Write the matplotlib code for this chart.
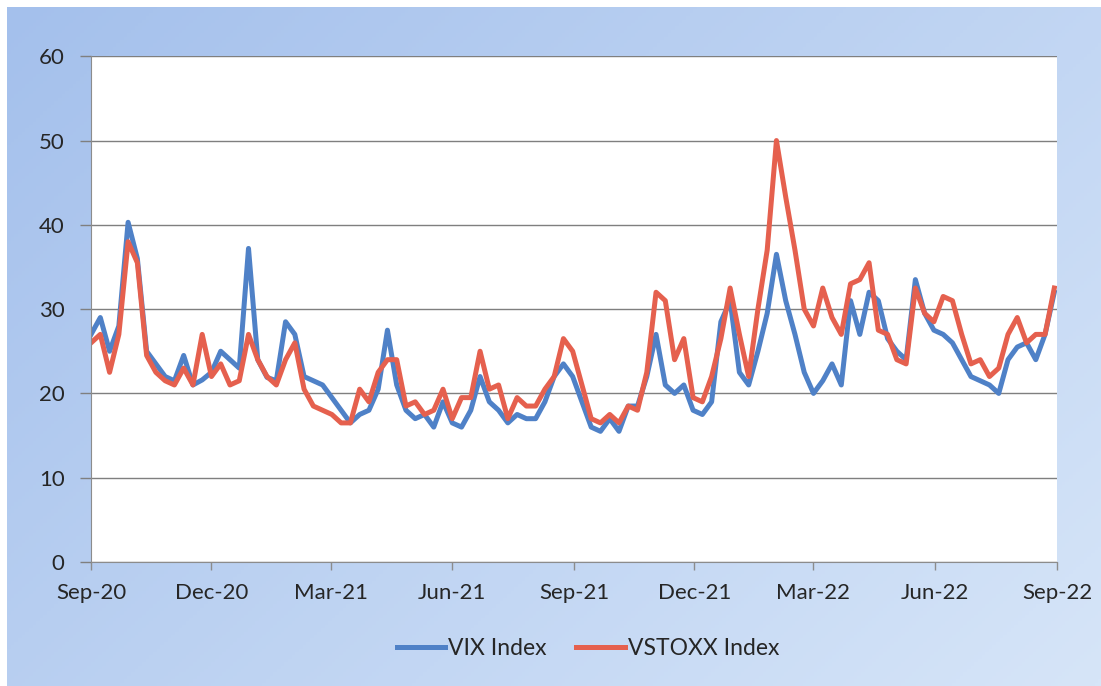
import numpy as np
import pandas as pd
import matplotlib.pyplot as plt
import matplotlib.dates as mdates
from matplotlib.colors import LinearSegmentedColormap

plt.rcParams['font.family'] = ['Lato', 'DejaVu Sans']

# weekly readings, Sep-2020 .. Aug-2022
dates = pd.date_range("2020-09-01", periods=105, freq="7D")

vix = [27, 29, 25, 28, 40.3, 36, 25, 23.5, 22, 21.5,
       24.5, 21, 21.6, 22.5, 25, 24, 23, 37.2, 24, 21.9,
       21.5, 28.5, 27, 22, 21.5, 21, 19.5, 18, 16.5, 17.5,
       18, 20.5, 27.5, 21, 18, 17, 17.5, 16, 19, 16.5,
       16, 18, 22, 19, 18, 16.5, 17.5, 17, 17, 19,
       22, 23.5, 22, 19, 16, 15.5, 17, 15.5, 18.5, 18.5,
       22, 27, 21, 20, 21, 18, 17.5, 19, 28.5, 31,
       22.5, 21, 25, 29.5, 36.5, 31, 27, 22.5, 20, 21.5,
       23.5, 21, 31, 27, 32, 31, 26.5, 25, 24, 33.5,
       29.5, 27.5, 27, 26, 24, 22, 21.5, 21, 20, 24,
       25.5, 26, 24, 27, 32]

vstoxx = [26, 27, 22.5, 27, 38, 35.5, 24.5, 22.5, 21.5, 21,
          23, 21, 27, 22, 23.5, 21, 21.5, 27, 24, 22,
          21, 24, 26, 20.5, 18.5, 18, 17.5, 16.5, 16.5, 20.5,
          19, 22.5, 24, 24, 18.5, 19, 17.5, 18, 20.5, 17,
          19.5, 19.5, 25, 20.5, 21, 17, 19.5, 18.5, 18.5, 20.5,
          22, 26.5, 25, 21, 17, 16.5, 17.5, 16.5, 18.5, 18,
          22.5, 32, 31, 24, 26.5, 19.5, 19, 22, 26.5, 32.5,
          27, 22, 30, 37, 50, 43.3, 37, 30, 28, 32.5,
          29, 27, 33, 33.5, 35.5, 27.5, 27, 24, 23.5, 32.5,
          29.5, 28.5, 31.5, 31, 27, 23.5, 24, 22, 23, 27,
          29, 26, 27, 27, 32.5]

tick_dates = pd.date_range("2020-09-01", "2022-09-01", freq="3MS")

fig = plt.figure(figsize=(11.01, 6.86), dpi=100)

# scanned-slide blue background, darker towards the top left
bg = fig.add_axes([0.006, 0, 0.994, 0.99])
bg.set_axis_off()
yy, xx = np.mgrid[0:1:200j, 0:1:300j]
shade = 0.6 * xx + 0.4 * yy
cmap = LinearSegmentedColormap.from_list("bg", ["#A4C0EC", "#D6E5F8"])
bg.imshow(shade, cmap=cmap, aspect="auto", extent=[0, 1, 0, 1])

ax = fig.add_axes([0.0827, 0.1808, 0.8773, 0.7372])
ax.set_facecolor("white")
ax.plot(dates, vix, color="#4F81C7", lw=3.6, label="VIX Index")
ax.plot(dates, vstoxx, color="#E5604E", lw=3.6, label="VSTOXX Index")

ax.set_ylim(0, 60)
ax.set_yticks(range(0, 61, 10))
ax.set_xlim(tick_dates[0], tick_dates[-1])
ax.set_xticks(tick_dates)
ax.xaxis.set_major_formatter(mdates.DateFormatter("%b-%y"))
ax.grid(axis="y", color="#7F7F7F", lw=1)
ax.set_axisbelow(True)

for side in ["top", "right"]:
    ax.spines[side].set_visible(False)
for side in ["left", "bottom"]:
    ax.spines[side].set_color("#8C8C8C")
ax.tick_params(axis="y", length=8, width=1, color="#7F7F7F", pad=11,
               labelsize=16, labelcolor="#262626")
ax.tick_params(axis="x", length=6, width=1, color="#8C8C8C", pad=9,
               labelsize=16, labelcolor="#262626")

fig.legend(loc="center", bbox_to_anchor=(0.534, 0.055), ncol=2, frameon=False,
           fontsize=16.5, handlelength=2.1, handletextpad=0.15, columnspacing=1.3,
           labelcolor="#262626")

fig.savefig("out.png", dpi=100)
